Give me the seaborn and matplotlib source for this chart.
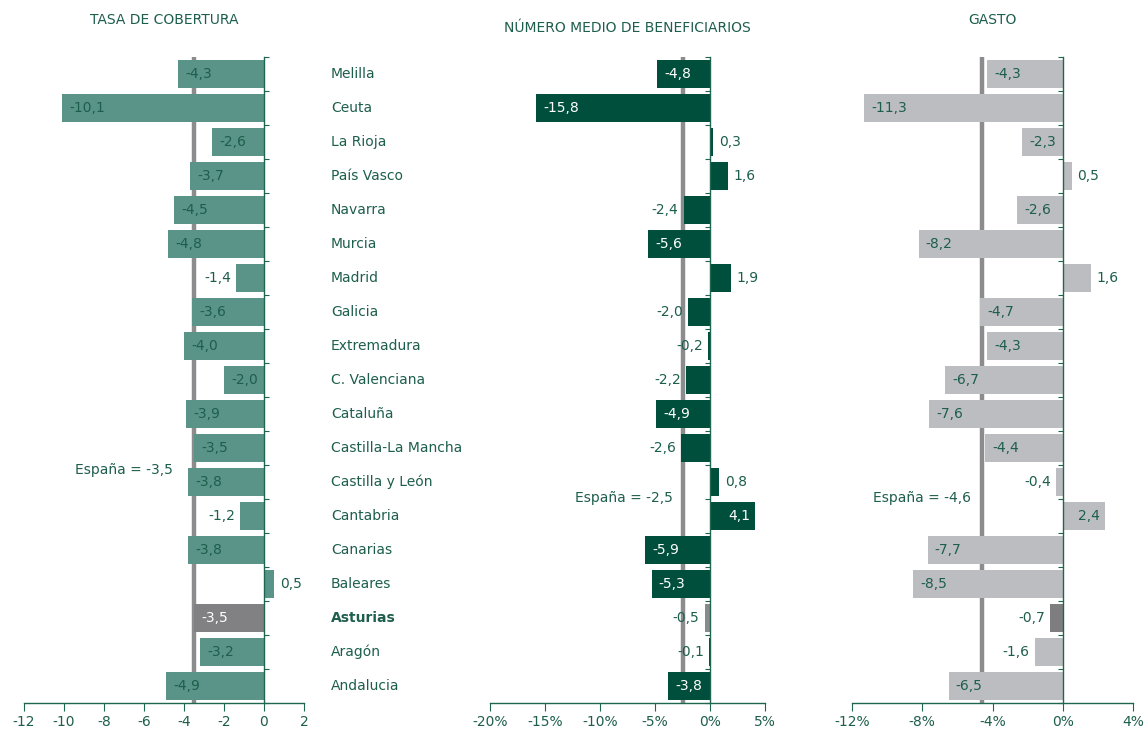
import numpy as np
import pandas as pd
import matplotlib
matplotlib.use("Agg")
import matplotlib.pyplot as plt
import matplotlib.transforms as mtransforms
import seaborn as sns

regions = ["Melilla", "Ceuta", "La Rioja", "País Vasco", "Navarra", "Murcia", "Madrid",
           "Galicia", "Extremadura", "C. Valenciana", "Cataluña", "Castilla-La Mancha",
           "Castilla y León", "Cantabria", "Canarias", "Baleares", "Asturias", "Aragón",
           "Andalucia"]
cobertura = [-4.3, -10.1, -2.6, -3.7, -4.5, -4.8, -1.4, -3.6, -4.0, -2.0, -3.9, -3.5,
             -3.8, -1.2, -3.8, 0.5, -3.5, -3.2, -4.9]
beneficiarios = [-4.8, -15.8, 0.3, 1.6, -2.4, -5.6, 1.9, -2.0, -0.2, -2.2, -4.9, -2.6,
                 0.8, 4.1, -5.9, -5.3, -0.5, -0.1, -3.8]
gasto = [-4.3, -11.3, -2.3, 0.5, -2.6, -8.2, 1.6, -4.7, -4.3, -6.7, -7.6, -4.4,
         -0.4, 2.4, -7.7, -8.5, -0.7, -1.6, -6.5]
espana = [-3.5, -2.5, -4.6]
titles = ["TASA DE COBERTURA", "NÚMERO MEDIO DE BENEFICIARIOS", "GASTO"]
xticks_list = [[-12, -10, -8, -6, -4, -2, 0, 2],
               [-20, -15, -10, -5, 0, 5],
               [-12, -8, -4, 0, 4]]
xticklabels_list = [["-12", "-10", "-8", "-6", "-4", "-2", "0", "2"],
                    ["-20%", "-15%", "-10%", "-5%", "0%", "5%"],
                    ["-12%", "-8%", "-4%", "0%", "4%"]]
highlight = "Asturias"

GREEN_TXT = "#1d5e4c"
AXIS_GREEN = "#1f6650"
bar_colors = ["#5a9488", "#004f3c", "#bcbdc0"]
hl_colors = ["#818184", "#8a8a8c", "#7e7e81"]
inside_txt = ["#1d5e4c", "white", "#1d5e4c"]
hl_inside_txt = ["white", "white", "white"]
title_y_px = [20, 28, 20]
espana_y = [11.64, 12.46, 12.46]
espana_gap_px = [21, 10, 11]
tick_dir = ["in", "out", "out"]

sns.set_theme(style="white")
plt.rcParams['font.family'] = ['DejaVu Sans']

W, H = 1146, 731
fig = plt.figure(figsize=(W / 100, H / 100), dpi=100)

panels_px = [(24, 304), (490, 765), (852, 1133)]
top_px, bot_px = 57, 703
series = [cobertura, beneficiarios, gasto]
axes = []
for i, (x0, x1) in enumerate(panels_px):
    ax = fig.add_axes([x0 / W, 1 - bot_px / H, (x1 - x0) / W, (bot_px - top_px) / H])
    axes.append(ax)
    vals = series[i]
    df = pd.DataFrame({"region": regions, "value": vals})
    pal = {r: (hl_colors[i] if r == highlight else bar_colors[i]) for r in regions}
    xlim = (xticks_list[i][0], xticks_list[i][-1])
    ax.axvline(espana[i], color="#8c8c8e", lw=3.2, zorder=0.5)
    sns.barplot(data=df, x="value", y="region", hue="region", palette=pal, legend=False,
                orient="h", width=0.82, ax=ax, saturation=1, zorder=2,
                linewidth=0, edgecolor="none")
    ax.set_xlim(*xlim)
    ax.set_ylim(18.5, -0.5)
    ax.set_xlabel("")
    ax.set_ylabel("")
    for s in ["top", "right"]:
        ax.spines[s].set_visible(False)
    ax.spines["left"].set_position(("data", 0))
    ax.spines["left"].set_color(AXIS_GREEN)
    ax.spines["left"].set_linewidth(1.0)
    ax.spines["left"].set_zorder(3)
    ax.spines["bottom"].set_color(AXIS_GREEN)
    ax.spines["bottom"].set_linewidth(1.0)
    ax.set_yticks(np.arange(-0.5, 18.6, 1.0))
    ax.set_yticklabels([])
    ax.tick_params(axis="y", direction=tick_dir[i], length=3.5, width=0.8,
                   color=AXIS_GREEN, left=True)
    ax.set_xticks(xticks_list[i])
    ax.set_xticklabels(xticklabels_list[i])
    ax.tick_params(axis="x", direction="out", length=6, width=0.8, color=AXIS_GREEN,
                   labelcolor=GREEN_TXT, labelsize=10, bottom=True, pad=3)
    ax.grid(False)
    ppu = (x1 - x0) / (xlim[1] - xlim[0])
    pt = 0.72
    for j, v in enumerate(vals):
        lab = f"{v:.1f}".replace(".", ",")
        inside = abs(v) * ppu >= 36
        is_hl = regions[j] == highlight
        if inside:
            col = hl_inside_txt[i] if is_hl else inside_txt[i]
            if v < 0:
                ax.annotate(lab, (v, j), xytext=(7 * pt, 0), textcoords="offset points",
                            ha="left", va="center", color=col, fontsize=10, zorder=4)
            else:
                ax.annotate(lab, (v, j), xytext=(-5 * pt, 0), textcoords="offset points",
                            ha="right", va="center", color=col, fontsize=10, zorder=4)
        else:
            if v < 0:
                ax.annotate(lab, (v, j), xytext=(-5 * pt, 0), textcoords="offset points",
                            ha="right", va="center", color=GREEN_TXT, fontsize=10, zorder=4)
            else:
                ax.annotate(lab, (v, j), xytext=(6 * pt, 0), textcoords="offset points",
                            ha="left", va="center", color=GREEN_TXT, fontsize=10, zorder=4)
    ax.annotate("España = " + f"{espana[i]:.1f}".replace(".", ","), (espana[i], espana_y[i]),
                xytext=(-espana_gap_px[i] * pt, 0), textcoords="offset points",
                ha="right", va="center", color=GREEN_TXT, fontsize=10)
    fig.text((x0 + x1) / 2 / W, 1 - title_y_px[i] / H, titles[i], ha="center", va="center",
             color=GREEN_TXT, fontsize=10)

trans = mtransforms.blended_transform_factory(fig.transFigure, axes[0].transData)
for j, r in enumerate(regions):
    fig.text(331 / W, j, r, transform=trans, ha="left", va="center", color=GREEN_TXT,
             fontsize=10, fontweight=("bold" if r == highlight else "normal"))

fig.savefig("out.png", dpi=100)
